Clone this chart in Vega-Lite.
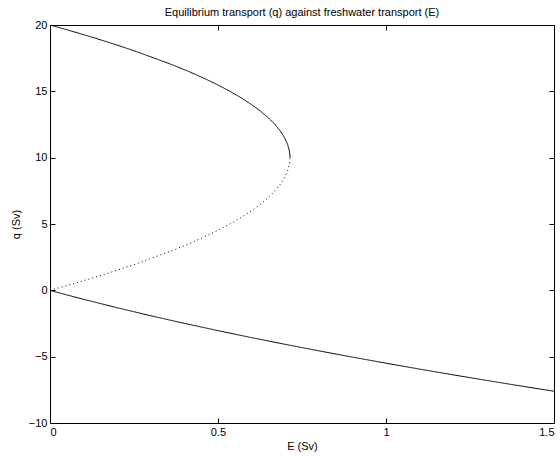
{
  "$schema": "https://vega.github.io/schema/vega-lite/v6.json",
  "width": 504,
  "height": 398,
  "autosize": {"type": "none"},
  "padding": {"left": 50, "top": 25, "right": 6, "bottom": 33},
  "background": "white",
  "config": {
    "font": "Liberation Sans",
    "view": {"stroke": "black", "strokeWidth": 1},
    "axis": {
      "grid": false,
      "domainColor": "black",
      "tickColor": "black",
      "labelColor": "black",
      "titleColor": "black",
      "labelFont": "Liberation Sans",
      "titleFont": "Liberation Sans",
      "labelFontSize": 11,
      "titleFontSize": 11,
      "titleFontWeight": "normal",
      "tickSize": -5,
      "labelPadding": 8
    }
  },
  "title": {
    "text": "Equilibrium transport (q) against freshwater transport (E)",
    "fontSize": 11,
    "fontWeight": "normal",
    "font": "Liberation Sans",
    "color": "black",
    "offset": 1
  },
  "data": {
    "values": [
      {"b": "upper", "i": 0, "E": 0, "q": 20},
      {"b": "upper", "i": 1, "E": 0.0283, "q": 19.8},
      {"b": "upper", "i": 2, "E": 0.0696, "q": 19.5},
      {"b": "upper", "i": 3, "E": 0.1357, "q": 19},
      {"b": "upper", "i": 4, "E": 0.1982, "q": 18.5},
      {"b": "upper", "i": 5, "E": 0.2571, "q": 18},
      {"b": "upper", "i": 6, "E": 0.3643, "q": 17},
      {"b": "upper", "i": 7, "E": 0.4125, "q": 16.5},
      {"b": "upper", "i": 8, "E": 0.4571, "q": 16},
      {"b": "upper", "i": 9, "E": 0.4982, "q": 15.5},
      {"b": "upper", "i": 10, "E": 0.5357, "q": 15},
      {"b": "upper", "i": 11, "E": 0.5696, "q": 14.5},
      {"b": "upper", "i": 12, "E": 0.6, "q": 14},
      {"b": "upper", "i": 13, "E": 0.6268, "q": 13.5},
      {"b": "upper", "i": 14, "E": 0.65, "q": 13},
      {"b": "upper", "i": 15, "E": 0.6696, "q": 12.5},
      {"b": "upper", "i": 16, "E": 0.6857, "q": 12},
      {"b": "upper", "i": 17, "E": 0.6982, "q": 11.5},
      {"b": "upper", "i": 18, "E": 0.7071, "q": 11},
      {"b": "upper", "i": 19, "E": 0.7125, "q": 10.5},
      {"b": "upper", "i": 20, "E": 0.714, "q": 10.2},
      {"b": "upper", "i": 21, "E": 0.7143, "q": 10},
      {"b": "middle", "i": 0, "E": 0, "q": 0},
      {"b": "middle", "i": 1, "E": 0.0283, "q": 0.2},
      {"b": "middle", "i": 2, "E": 0.0696, "q": 0.5},
      {"b": "middle", "i": 3, "E": 0.1357, "q": 1},
      {"b": "middle", "i": 4, "E": 0.1982, "q": 1.5},
      {"b": "middle", "i": 5, "E": 0.2571, "q": 2},
      {"b": "middle", "i": 6, "E": 0.3643, "q": 3},
      {"b": "middle", "i": 7, "E": 0.4125, "q": 3.5},
      {"b": "middle", "i": 8, "E": 0.4571, "q": 4},
      {"b": "middle", "i": 9, "E": 0.4982, "q": 4.5},
      {"b": "middle", "i": 10, "E": 0.5357, "q": 5},
      {"b": "middle", "i": 11, "E": 0.5696, "q": 5.5},
      {"b": "middle", "i": 12, "E": 0.6, "q": 6},
      {"b": "middle", "i": 13, "E": 0.6268, "q": 6.5},
      {"b": "middle", "i": 14, "E": 0.65, "q": 7},
      {"b": "middle", "i": 15, "E": 0.6696, "q": 7.5},
      {"b": "middle", "i": 16, "E": 0.6857, "q": 8},
      {"b": "middle", "i": 17, "E": 0.6982, "q": 8.5},
      {"b": "middle", "i": 18, "E": 0.7071, "q": 9},
      {"b": "middle", "i": 19, "E": 0.7125, "q": 9.5},
      {"b": "middle", "i": 20, "E": 0.714, "q": 9.8},
      {"b": "middle", "i": 21, "E": 0.7143, "q": 10},
      {"b": "lower", "i": 0, "E": 0, "q": 0},
      {"b": "lower", "i": 1, "E": 0.05, "q": -0.3441},
      {"b": "lower", "i": 2, "E": 0.1, "q": -0.6771},
      {"b": "lower", "i": 3, "E": 0.2, "q": -1.3137},
      {"b": "lower", "i": 4, "E": 0.3, "q": -1.9164},
      {"b": "lower", "i": 5, "E": 0.4, "q": -2.49},
      {"b": "lower", "i": 6, "E": 0.5, "q": -3.0384},
      {"b": "lower", "i": 7, "E": 0.6, "q": -3.5647},
      {"b": "lower", "i": 8, "E": 0.7, "q": -4.0712},
      {"b": "lower", "i": 9, "E": 0.8, "q": -4.5602},
      {"b": "lower", "i": 10, "E": 0.9, "q": -5.0333},
      {"b": "lower", "i": 11, "E": 1.0, "q": -5.4919},
      {"b": "lower", "i": 12, "E": 1.1, "q": -5.9374},
      {"b": "lower", "i": 13, "E": 1.2, "q": -6.3707},
      {"b": "lower", "i": 14, "E": 1.3, "q": -6.7929},
      {"b": "lower", "i": 15, "E": 1.4, "q": -7.2047},
      {"b": "lower", "i": 16, "E": 1.5, "q": -7.6068}
    ]
  },
  "layer": [
    {
      "mark": {"type": "line", "color": "black", "strokeWidth": 1, "clip": true},
      "encoding": {
        "x": {
          "field": "E", "type": "quantitative",
          "scale": {"domain": [0, 1.5], "nice": false, "zero": false},
          "axis": {"orient": "bottom", "title": "E (Sv)", "values": [0, 0.5, 1, 1.5], "format": "~g", "titlePadding": 3}
        },
        "y": {
          "field": "q", "type": "quantitative",
          "scale": {"domain": [-10, 20], "nice": false, "zero": false},
          "axis": {"orient": "left", "title": "q (Sv)", "values": [-10, -5, 0, 5, 10, 15, 20], "format": "~g", "titlePadding": 7}
        },
        "detail": {"field": "b", "type": "nominal"},
        "strokeDash": {
          "field": "b", "type": "nominal",
          "scale": {"domain": ["upper", "middle", "lower"], "range": [[1, 0], [1, 3], [1, 0]]},
          "legend": null
        },
        "order": {"field": "i", "type": "quantitative"}
      }
    },
    {
      "mark": {"type": "line", "opacity": 0},
      "encoding": {
        "x": {
          "field": "E", "type": "quantitative",
          "scale": {"domain": [0, 1.5], "nice": false, "zero": false},
          "axis": {"orient": "top", "title": null, "labels": false, "values": [0, 0.5, 1, 1.5]}
        },
        "y": {
          "field": "q", "type": "quantitative",
          "scale": {"domain": [-10, 20], "nice": false, "zero": false},
          "axis": {"orient": "right", "title": null, "labels": false, "values": [-10, -5, 0, 5, 10, 15, 20]}
        },
        "detail": {"field": "b", "type": "nominal"}
      }
    }
  ],
  "resolve": {"axis": {"x": "independent", "y": "independent"}}
}
